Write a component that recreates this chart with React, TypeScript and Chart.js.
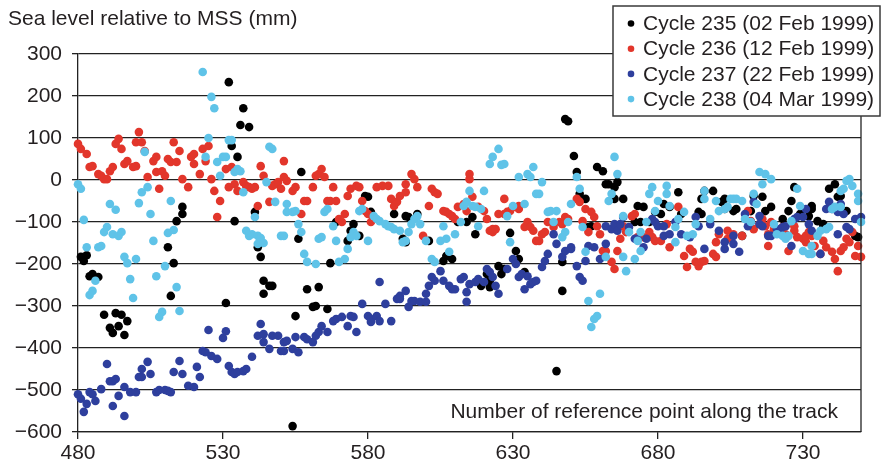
import { useEffect, useRef } from "react";
import { Chart, registerables } from "chart.js";

Chart.register(...registerables);

// Along-track sea level anomalies for four successive altimeter cycles.
// Each entry is [reference point number, sea level relative to MSS in mm].
const cycle235: [number, number][] = [
  [481, -183], [482, -193], [483, -179], [484, -229], [485, -224], [487, -231], [489, -321], [491, -352],
  [492, -364], [493, -317], [494, -348], [495, -321], [496, -369], [497, -336], [511, -160], [512, -276],
  [513, -198], [514, -98], [516, -81], [516, -64], [531, -293], [532, 233], [533, 81], [534, -98],
  [535, 55], [536, 131], [537, 171], [539, 126], [541, -76], [542, -160], [543, -183], [544, -271],
  [544, -240], [546, -252], [547, -252], [554, -586], [555, -324], [556, -140], [557, 19], [559, -260],
  [561, -302], [562, -300], [563, -255], [566, -307], [567, -198], [569, -100], [573, -145], [574, -121],
  [575, -105], [577, -133], [579, -38], [580, -40], [581, -76], [589, -81], [592, -140], [593, -148],
  [593, -86], [594, -88], [597, -81], [601, -145], [606, -193], [607, -181], [609, -188], [611, -100],
  [614, -100], [616, -88], [617, -129], [619, -252], [621, -224], [622, -240], [622, -255], [625, -205],
  [626, -224], [627, -212], [629, -126], [631, -169], [632, -188], [634, -219], [645, -455], [647, -264],
  [647, -195], [648, 145], [649, 140], [651, 57], [652, 19], [653, -33], [655, -45], [656, -112],
  [657, -110], [659, 31], [661, 21], [662, -10], [663, -10], [665, -17], [665, -45], [666, -5],
  [668, -45], [672, -100], [673, -62], [674, -100], [675, -64], [677, -100], [679, -76], [681, -81],
  [682, -57], [684, -64], [687, -29], [688, -81], [694, -76], [695, -81], [695, -45], [696, -26],
  [699, -26], [702, -52], [703, -45], [703, -69], [706, -74], [707, -69], [709, -133], [712, -74],
  [713, -38], [716, -40], [717, -74], [719, -64], [723, -93], [725, -74], [726, -50], [727, -17],
  [729, -81], [732, -86], [733, -62], [733, -69], [735, -98], [737, -105], [737, -110], [739, -21],
  [741, -10], [742, -40], [743, -38], [745, -74], [748, -133], [749, -136],
];

const cycle236: [number, number][] = [
  [480, 86], [481, 74], [483, 62], [484, 31], [485, 33], [487, 14], [488, 10], [489, 2],
  [490, 2], [491, 21], [492, 31], [493, 86], [494, 98], [495, 74], [496, 38], [497, 45],
  [499, 31], [500, 33], [500, 90], [501, 114], [502, 90], [503, 69], [504, 7], [506, 45],
  [507, 55], [507, 19], [508, -21], [509, 21], [510, 10], [511, 50], [512, 43], [513, 90],
  [514, 43], [515, 69], [516, 2], [518, -17], [519, 55], [520, 38], [520, 62], [522, 14],
  [523, 74], [524, 45], [525, 81], [526, 2], [527, -26], [528, -88], [529, -50], [531, 26],
  [532, -17], [533, 31], [534, -10], [535, -26], [537, -5], [538, -14], [539, -17], [540, -21],
  [541, -17], [542, -62], [543, 33], [544, 10], [546, -52], [547, -14], [548, -10], [549, -5],
  [550, -21], [551, 45], [551, 7], [552, -2], [554, -26], [555, -17], [557, -81], [558, -50],
  [559, -50], [561, -17], [562, 10], [563, 14], [564, 26], [565, 7], [566, -50], [567, -50],
  [568, -17], [569, -50], [570, -93], [571, -100], [572, -81], [573, -38], [574, -21], [576, -14],
  [577, -17], [578, -50], [579, -74], [580, -81], [581, -100], [583, -17], [585, -14], [587, -14],
  [588, -45], [589, -62], [590, -52], [591, -38], [593, -29], [593, -10], [595, 14], [596, 2],
  [597, -17], [599, -133], [601, -62], [602, -21], [603, -29], [604, -33], [606, -74], [607, -76],
  [608, -81], [609, -86], [610, -93], [611, -64], [613, -57], [614, -74], [615, 14], [615, 2],
  [616, -40], [618, -64], [620, -74], [621, -93], [622, -121], [623, -124], [623, -117], [624, -117],
  [625, -81], [627, -81], [627, -45], [628, -76], [629, -74], [630, -64], [632, -69], [632, -62],
  [634, -112], [635, -100], [636, -112], [637, -121], [638, -145], [639, -145], [640, -129], [641, -124],
  [642, -100], [644, -112], [646, -100], [647, -105], [648, -100], [648, -88], [649, -93], [652, -45],
  [653, -52], [654, -98], [655, -69], [656, -124], [657, -76], [658, -88], [659, -110], [660, -129],
  [661, -169], [662, -169], [664, -195], [665, -212], [666, -169], [667, -140], [668, -110], [669, -124],
  [671, -86], [672, -81], [673, -136], [675, -136], [677, -124], [678, -136], [679, -145], [681, -145],
  [683, -105], [684, -160], [687, -64], [689, -181], [690, -207], [691, -164], [692, -171], [693, -195],
  [694, -205], [695, -195], [696, -193], [699, -176], [700, -183], [700, -148], [701, -129], [704, -121],
  [704, -140], [706, -129], [709, -133], [711, -74], [712, -98], [713, -117], [715, -105], [716, -93],
  [717, -110], [718, -129], [718, -157], [719, -100], [720, -117], [721, -124], [723, -112], [724, -129],
  [725, -169], [727, -121], [727, -110], [728, -136], [730, -140], [731, -148], [731, -133], [732, -124],
  [733, -133], [734, -157], [736, -176], [737, -145], [738, -160], [740, -171], [741, -188], [742, -217],
  [743, -169], [744, -160], [745, -140], [746, -148], [747, -124], [748, -181], [749, -157], [750, -183],
];

const cycle237: [number, number][] = [
  [480, -510], [481, -521], [482, -552], [483, -533], [484, -505], [485, -510], [486, -526], [488, -498],
  [490, -438], [491, -479], [492, -479], [493, -474], [492, -538], [494, -514], [496, -493], [496, -562],
  [498, -505], [500, -505], [501, -469], [502, -469], [502, -450], [504, -433], [505, -462], [507, -505],
  [508, -500], [510, -500], [511, -502], [512, -505], [513, -457], [515, -431], [516, -462], [518, -490],
  [520, -493], [521, -445], [522, -469], [523, -407], [524, -410], [525, -357], [526, -419], [528, -426],
  [530, -376], [531, -360], [532, -443], [533, -457], [534, -462], [535, -457], [537, -455], [538, -450],
  [540, -421], [542, -371], [543, -343], [544, -386], [544, -367], [546, -402], [547, -371], [549, -371],
  [550, -407], [551, -407], [551, -386], [552, -383], [554, -402], [555, -374], [556, -410], [558, -374],
  [559, -379], [561, -386], [562, -371], [563, -362], [564, -348], [566, -362], [568, -336], [569, -331],
  [571, -326], [573, -348], [574, -324], [575, -326], [576, -362], [578, -295], [580, -324], [581, -331],
  [581, -338], [583, -324], [584, -336], [584, -243], [586, -295], [588, -336], [590, -283], [591, -276],
  [591, -283], [593, -264], [594, -302], [595, -288], [596, -288], [598, -290], [600, -290], [600, -271],
  [601, -252], [602, -231], [603, -240], [605, -217], [606, -240], [608, -252], [609, -260], [610, -260],
  [612, -236], [613, -231], [614, -267], [614, -290], [615, -248], [617, -243], [618, -236], [620, -243],
  [621, -212], [622, -219], [623, -231], [624, -252], [625, -271], [628, -212], [630, -188], [631, -200],
  [632, -231], [633, -224], [634, -260], [635, -229], [636, -248], [637, -243], [638, -240], [640, -207],
  [641, -193], [642, -176], [644, -129], [645, -152], [647, -183], [648, -169], [650, -160], [650, -164],
  [652, -205], [653, -231], [654, -240], [655, -193], [656, -157], [658, -160], [660, -188], [662, -152],
  [662, -110], [664, -117], [665, -105], [666, -121], [667, -105], [668, -88], [670, -112], [672, -140],
  [673, -140], [675, -160], [676, -140], [678, -93], [679, -100], [680, -110], [682, -110], [682, -133],
  [684, -129], [686, -100], [688, -129], [691, -136], [693, -88], [694, -110], [696, -164], [698, -105],
  [701, -121], [703, -148], [703, -164], [706, -152], [706, -133], [708, -171], [710, -81], [711, -110],
  [712, -100], [713, -52], [715, -86], [715, -105], [716, -110], [718, -133], [719, -133], [721, -117],
  [722, -121], [723, -112], [724, -110], [726, -157], [727, -93], [728, -88], [730, -88], [731, -69],
  [732, -105], [733, -121], [736, -176], [738, -69], [739, -52], [740, -69], [742, -76], [742, -129],
  [743, -57], [744, -81], [745, -112], [746, -117], [748, -93], [750, -88],
];

const cycle238: [number, number][] = [
  [480, -10], [481, -21], [482, -95], [483, -160], [484, -274], [485, -264], [486, -240], [487, -160],
  [488, -157], [489, -124], [490, -112], [491, -57], [492, -129], [493, -71], [494, -133], [495, -124],
  [496, -183], [497, -198], [498, -236], [499, -281], [500, -188], [501, -55], [502, -29], [503, 67],
  [504, -17], [505, -81], [506, -145], [507, -229], [508, -326], [509, -314], [510, -205], [511, -126],
  [512, -50], [513, -119], [514, -255], [515, -312], [523, 257], [524, 55], [525, 100], [526, 198],
  [527, 171], [528, 43], [529, 10], [530, 55], [531, 55], [532, 95], [533, 95], [534, 19],
  [535, 26], [536, 21], [537, -29], [538, -121], [539, -133], [540, -129], [541, -88], [542, -133],
  [542, -152], [543, -138], [544, -150], [545, -5], [546, 79], [547, 74], [548, -52], [550, -133],
  [551, -133], [552, -76], [552, -57], [554, -76], [555, -74], [556, -105], [557, -124], [558, -176],
  [559, -195], [562, -200], [563, -140], [564, -136], [565, -76], [566, -69], [568, -110], [569, -145],
  [570, -195], [572, -188], [573, -164], [574, -136], [575, -124], [576, -133], [577, -74], [578, -69],
  [580, -145], [582, -86], [583, -93], [584, -98], [586, -105], [587, -110], [588, -112], [589, -117],
  [591, -121], [592, -148], [593, -145], [594, -124], [595, -105], [596, -93], [597, -86], [598, -105],
  [600, -145], [602, -188], [603, -195], [605, -145], [606, -110], [607, -140], [608, -171], [610, -129],
  [612, -100], [613, -62], [614, -52], [615, -26], [616, -62], [617, -64], [618, -110], [619, -69],
  [620, -26], [622, 38], [623, 55], [625, 74], [626, 36], [627, 38], [628, -86], [629, -148],
  [630, -62], [632, 7], [634, -57], [635, 14], [636, 7], [637, 31], [638, -33], [639, -33],
  [640, -5], [642, -76], [643, -74], [644, -100], [645, -74], [647, -136], [648, -124], [649, -100],
  [650, -57], [652, 7], [653, -21], [654, -112], [655, -171], [656, -288], [658, -331], [659, -324],
  [657, -350], [660, -271], [662, -183], [663, -50], [664, -33], [665, 55], [666, 14], [668, -86],
  [668, -183], [669, -217], [670, -124], [672, -188], [673, -145], [674, -169], [674, -124], [676, -100],
  [677, -33], [678, -17], [679, -74], [680, -50], [683, -14], [683, -33], [684, -62], [686, -112],
  [686, -148], [687, -93], [689, -76], [690, -133], [692, -129], [693, -105], [696, -26], [696, -45],
  [698, -93], [700, -50], [701, -74], [703, -69], [704, -64], [705, -45], [706, -45], [707, -45],
  [709, -50], [710, -93], [712, -100], [713, -33], [714, -57], [715, 19], [716, -10], [717, 14],
  [719, 2], [720, -105], [721, -129], [723, -133], [724, -140], [725, -133], [726, -98], [728, -21],
  [729, -62], [730, -169], [732, -176], [733, -176], [733, -157], [735, -133], [736, -121], [738, -117],
  [739, -112], [740, -69], [741, -64], [743, -64], [743, -26], [744, -21], [745, -2], [746, 2],
  [747, -14], [749, -33], [749, -50], [750, -100],
];

const seriesLabels = [
  "Cycle 235 (02 Feb 1999)",
  "Cycle 236 (12 Feb 1999)",
  "Cycle 237 (22 Feb 1999)",
  "Cycle 238 (04 Mar 1999)",
];
const seriesColors = ["#000000", "#e2362b", "#2e3f9d", "#5fc3e8"];
const seriesData = [cycle235, cycle236, cycle237, cycle238];

const xTickValues = [480, 530, 580, 630, 680, 730];
const yAxisTitle = "Sea level relative to MSS (mm)";
const xAxisTitle = "Number of reference point along the track";

const FONT = "'Liberation Sans', Arial, Helvetica, sans-serif";
const INK = "#231f20";
const LINE = "#222222";

// Frame edge, axis captions and the boxed key drawn on top of the plot.
const framePlugin = {
  id: "frameAndKey",
  afterDatasetsDraw(chart: any) {
    const { ctx, chartArea: a } = chart;
    ctx.save();

    ctx.strokeStyle = LINE;
    ctx.lineWidth = 1.3;
    ctx.beginPath();
    ctx.moveTo(a.right, a.top);
    ctx.lineTo(a.right, a.bottom);
    ctx.stroke();

    ctx.fillStyle = INK;
    ctx.font = `21px ${FONT}`;
    ctx.textBaseline = "middle";
    ctx.textAlign = "left";
    ctx.fillText(yAxisTitle, 8, 19);

    ctx.textAlign = "right";
    ctx.fillText(xAxisTitle, a.right - 23, a.bottom - 20);

    // key box
    const bx = 613, by = 6, bw = 267, bh = 110;
    ctx.fillStyle = "#ffffff";
    ctx.fillRect(bx, by, bw, bh);
    ctx.strokeStyle = "#3a3a3a";
    ctx.lineWidth = 1.5;
    ctx.strokeRect(bx, by, bw, bh);

    ctx.textAlign = "left";
    seriesLabels.forEach((label, i) => {
      const cy = 23.5 + i * 25.2;
      ctx.fillStyle = seriesColors[i];
      ctx.beginPath();
      ctx.arc(631, cy, 3.3, 0, Math.PI * 2);
      ctx.fill();
      ctx.fillStyle = INK;
      ctx.fillText(label, 643, cy + 1);
    });

    ctx.restore();
  },
};

export default function App() {
  const canvasRef = useRef<HTMLCanvasElement | null>(null);

  useEffect(() => {
    document.body.style.margin = "0";
    const canvas = canvasRef.current;
    if (!canvas) return;

    const datasets = seriesData.map((pts, i) => ({
      label: seriesLabels[i],
      data: pts.map(([x, y]) => ({ x, y })),
      backgroundColor: seriesColors[i],
      borderWidth: 0,
      pointRadius: 4.3,
      pointHoverRadius: 4.3,
      clip: false as const,
      order: seriesData.length - i,
    }));

    const chart = new Chart(canvas, {
      type: "scatter",
      data: { datasets },
      options: {
        responsive: false,
        devicePixelRatio: 1,
        animation: false,
        events: [],
        layout: { padding: { top: 54, right: 22, left: 0, bottom: 0 } },
        plugins: {
          legend: { display: false },
          tooltip: { enabled: false },
          title: { display: false },
        },
        scales: {
          x: {
            type: "linear",
            min: 480,
            max: 750,
            afterBuildTicks: (scale: any) => {
              scale.ticks = xTickValues.map((value) => ({ value }));
            },
            afterFit: (scale: any) => {
              scale.height = 34;
            },
            grid: {
              drawOnChartArea: false,
              drawTicks: true,
              tickLength: 7,
              color: LINE,
              lineWidth: 1.3,
            },
            border: { display: true, color: LINE, width: 1.3 },
            ticks: {
              autoSkip: false,
              maxRotation: 0,
              padding: 2,
              color: INK,
              font: { family: FONT, size: 21 },
            },
          },
          y: {
            type: "linear",
            min: -600,
            max: 300,
            afterFit: (scale: any) => {
              scale.width = 78;
            },
            grid: {
              drawTicks: true,
              tickLength: 6,
              color: LINE,
              lineWidth: 1.3,
            },
            border: { display: true, color: LINE, width: 1.3 },
            ticks: {
              stepSize: 100,
              padding: 10,
              color: INK,
              font: { family: FONT, size: 21 },
              callback: (v: any) => String(v).replace("-", "\u2212"),
            },
          },
        },
      },
      plugins: [framePlugin],
    });

    return () => chart.destroy();
  }, []);

  return (
    <div style={{ width: 883, height: 466 }}>
      <canvas ref={canvasRef} width={883} height={466} style={{ display: "block" }} />
    </div>
  );
}
